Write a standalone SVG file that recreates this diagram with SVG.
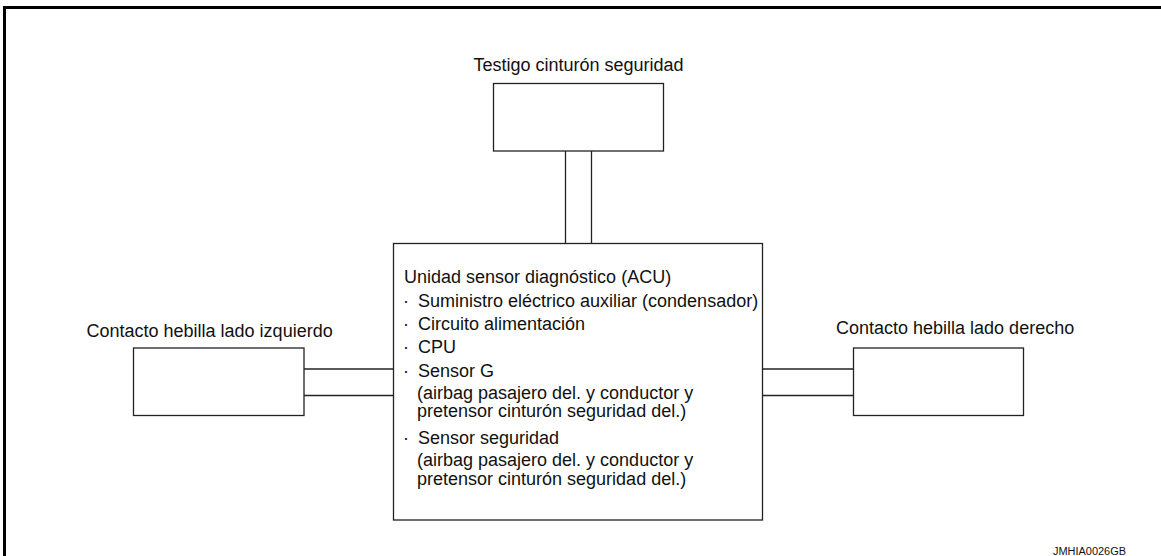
<svg xmlns="http://www.w3.org/2000/svg" width="1161" height="556" viewBox="0 0 1161 556">
<style>
.box{fill:#fff;stroke:#222;stroke-width:1.3}
.wire{fill:none;stroke:#222;stroke-width:1.3}
.t{font-family:"Liberation Sans",Arial,sans-serif;font-size:18px;fill:#111}
.code{font-family:"Liberation Sans",Arial,sans-serif;font-size:10px;fill:#111}
</style>
<rect width="1161" height="556" fill="#fff"/>
<path d="M4.5 556 V7.5 H1161" fill="none" stroke="#000" stroke-width="3"/>
<g id="connectors">
<line class="wire" x1="565.5" y1="151" x2="565.5" y2="243.5"/>
<line class="wire" x1="591.5" y1="151" x2="591.5" y2="243.5"/>
<line class="wire" x1="304" y1="369" x2="393.5" y2="369"/>
<line class="wire" x1="304" y1="395.5" x2="393.5" y2="395.5"/>
<line class="wire" x1="762.5" y1="369" x2="853.5" y2="369"/>
<line class="wire" x1="762.5" y1="395.5" x2="853.5" y2="395.5"/>
</g>
<g id="testigo">
<rect class="box" x="493.5" y="83.5" width="170" height="67.5"/>
<text class="t" x="578.5" y="70.5" text-anchor="middle">Testigo cinturón seguridad</text>
</g>
<g id="acu">
<rect class="box" x="393.5" y="243.5" width="369" height="276.5"/>
<text class="t" x="404" y="282.7">Unidad sensor diagnóstico (ACU)</text>
<text class="t" x="403" y="307">·</text><text class="t" x="418" y="307">Suministro eléctrico auxiliar (condensador)</text>
<text class="t" x="403" y="330">·</text><text class="t" x="418" y="330">Circuito alimentación</text>
<text class="t" x="403" y="353">·</text><text class="t" x="418" y="353">CPU</text>
<text class="t" x="403" y="376.7">·</text><text class="t" x="418" y="376.7">Sensor G</text>
<text class="t" x="417" y="399">(airbag pasajero del. y conductor y</text>
<text class="t" x="417" y="417">pretensor cinturón seguridad del.)</text>
<text class="t" x="403" y="444">·</text><text class="t" x="418" y="444">Sensor seguridad</text>
<text class="t" x="417" y="466">(airbag pasajero del. y conductor y</text>
<text class="t" x="417" y="484.5">pretensor cinturón seguridad del.)</text>
</g>
<g id="hebilla-izq">
<rect class="box" x="133.5" y="348" width="170.5" height="67.5"/>
<text class="t" x="86.5" y="336.5">Contacto hebilla lado izquierdo</text>
</g>
<g id="hebilla-der">
<rect class="box" x="853.5" y="348" width="170" height="67.5"/>
<text class="t" x="836" y="333.5">Contacto hebilla lado derecho</text>
</g>
<text class="code" x="1053" y="555" textLength="73" lengthAdjust="spacingAndGlyphs">JMHIA0026GB</text>
</svg>
